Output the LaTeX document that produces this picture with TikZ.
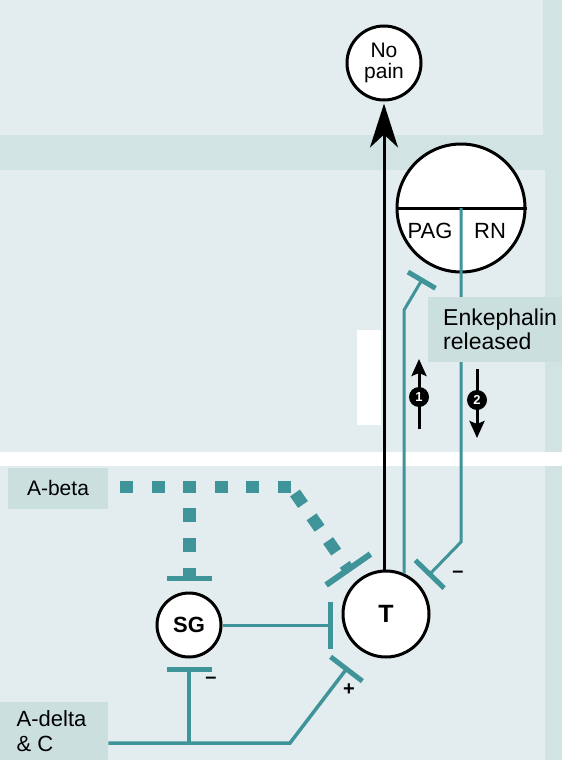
\documentclass[tikz,border=0pt]{standalone}
\usepackage{fontspec}
\setmainfont{Liberation Sans}
\usetikzlibrary{arrows.meta}
\definecolor{bgdark}{HTML}{D2E3E4}
\definecolor{panel}{HTML}{E3ECEE}
\definecolor{labbox}{HTML}{CBDFDF}
\definecolor{tl}{HTML}{3E9499}
\tikzset{
  circ/.style={circle, draw=black, line width=3pt, fill=white, inner sep=0pt, align=center},
  tline/.style={draw=tl, line width=3pt},
  dots/.style={draw=tl, line width=12pt, line cap=butt},
  lab/.style={fill=labbox, inner sep=0pt, align=left},
  sign/.style={inner sep=0pt, font=\fontsize{20}{20}\selectfont\bfseries},
  numc/.style={circle, fill=black, inner sep=0pt, minimum size=20pt, text=white, font=\fontsize{13}{13}\selectfont\bfseries},
  smallarrow/.style={black, line width=3pt, -{Stealth[length=17pt, width=15pt, inset=3pt]}},
  txt/.style={font=\fontsize{21}{23}\selectfont}
}
\begin{document}
\begin{tikzpicture}[x=1pt,y=-1pt]
\useasboundingbox (0,0) rectangle (562,760);
% background panels
\fill[bgdark] (0,0) rectangle (562,760);
\fill[panel] (0,0) rectangle (543,135);
\fill[panel] (0,170) rectangle (545,452);
\fill[white] (0,452) rectangle (562,466);
\fill[panel] (0,466) rectangle (545,760);
\fill[white] (357,330) rectangle (381,425);

% nodes
\node[circ, minimum size=74pt, font=\fontsize{21}{21}\selectfont] (np) at (384,63) {No\\pain};
\node[circ, minimum size=128pt] (pr) at (461,208) {};
\node[circ, minimum size=86pt, font=\fontsize{25}{25}\selectfont\bfseries] (T) at (386,614) {T};
\node[circ, minimum size=64pt, font=\fontsize{22}{22}\selectfont\bfseries] (SG) at (189,625) {SG};

\draw[black, line width=3pt] (pr.west) -- (pr.east);
\node[txt, inner sep=0pt, font=\fontsize{22}{22}\selectfont] (pag) at (430,231) {PAG};
\node[txt, inner sep=0pt, font=\fontsize{22}{22}\selectfont] (rn) at (490,231) {RN};

% coordinates for connector bends and bar positions
\coordinate (k1) at (403,310);
\coordinate (b1) at (423,278);
\coordinate (k2) at (461,542);
\coordinate (b2) at (428,576);
\coordinate (b3) at (350,572);
\coordinate (b4) at (333,625);
\coordinate (k5) at (290,743);
\coordinate (b5) at (348,667);
\coordinate (b6) at (189,667);
\coordinate (b7) at (189,581);

% main ascending path
\draw[black, line width=3pt, -{Stealth[length=44pt, width=28pt, inset=13pt]}, shorten >=2pt]
  (np.south |- T.north) -- (np.south);

% PAG-RN loop
\draw[tline, -{Bar[width=32pt, line width=5pt]}] (T.66) -- (T.66 |- k1) -- (b1);
\draw[tline, -{Bar[width=40pt, line width=5pt]}] (pr.center) -- (k2) -- (b2);

% labels
\node[lab, minimum width=134pt, minimum height=65pt, anchor=north west] (enk) at (428,297)
  {\hspace*{14pt}\parbox{118pt}{\fontsize{23}{24}\selectfont Enkephalin\\released}};
\node[lab, minimum width=100pt, minimum height=41pt, align=center, txt] (abeta) at (58,488) {A-beta};
\node[lab, minimum width=108pt, minimum height=58pt, anchor=north west] (adelta) at (0,702)
  {\hspace*{15pt}\parbox{90pt}{\fontsize{22}{25}\selectfont A-delta\\\& C}};

% A-beta dotted fibres
\draw[dots, dash pattern=on 13pt off 18.5pt] ([xshift=12pt]abeta.east |- 0,487) -- (291,487);
\draw[dots, dash pattern=on 14pt off 15pt, -{Bar[width=54pt, line width=6pt]}] (295,493) -- (b3);
\draw[dots, line width=13pt, dash pattern=on 14pt off 16pt, -{Bar[width=45pt, line width=5pt]}] (189,508) -- (b7);

% SG to T
\draw[tline, -{Bar[width=47pt, line width=5pt]}] (SG.east) -- (b4);

% A-delta & C
\draw[tline, line width=3.5pt, -{Bar[width=40pt, line width=5pt]}] (adelta.east |- k5) -- (k5) -- (b5);
\draw[tline, line width=3.5pt, -{Bar[width=45pt, line width=5pt]}] (b6 |- k5) -- (b6);

% signs
\node[sign] (m1) at (211,680) {\textendash};
\node[sign] (m2) at (458,574) {\textendash};
\node[sign] (p1) at (349,690) {+};

% small direction arrows
\coordinate (a1s) at (419,429);
\coordinate (a1e) at (419,359);
\draw[smallarrow] (a1s) -- (a1e);
\node[numc] (n1) at (419,397) {1};
\coordinate (a2s) at (477,369);
\coordinate (a2e) at (477,438);
\draw[smallarrow] (a2s) -- (a2e);
\node[numc] (n2) at (477,400) {2};
\end{tikzpicture}
\end{document}
